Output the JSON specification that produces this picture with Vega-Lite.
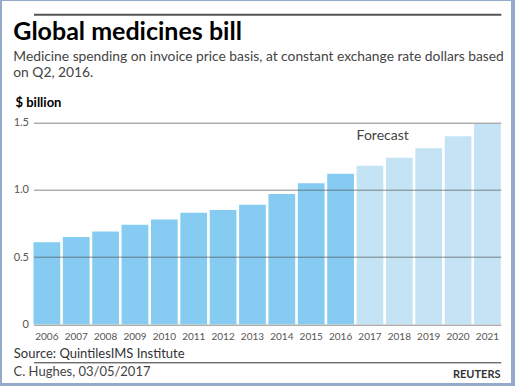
{
  "$schema": "https://vega.github.io/schema/vega-lite/v6.json",
  "width": 467.3,
  "height": 201.6,
  "autosize": {"type": "none"},
  "padding": {"left": 33.5, "top": 122.7, "right": 14.2, "bottom": 61.7},
  "background": "white",
  "config": {
    "font": "Lato",
    "view": {"stroke": null}
  },
  "title": {
    "text": "Global medicines bill",
    "subtitle": ["Medicine spending on invoice price basis, at constant exchange rate dollars based", "on Q2, 2016."],
    "anchor": "start",
    "frame": "group",
    "dx": -20.2,
    "offset": -81,
    "fontSize": 25,
    "fontWeight": "bold",
    "color": "#000000",
    "subtitleFontSize": 13.8,
    "subtitleColor": "#444444",
    "subtitleLineHeight": 16,
    "subtitlePadding": 5
  },
  "datasets": {
    "bill": [
      {"year": "2006", "value": 0.61, "period": "Actual"},
      {"year": "2007", "value": 0.65, "period": "Actual"},
      {"year": "2008", "value": 0.69, "period": "Actual"},
      {"year": "2009", "value": 0.74, "period": "Actual"},
      {"year": "2010", "value": 0.78, "period": "Actual"},
      {"year": "2011", "value": 0.83, "period": "Actual"},
      {"year": "2012", "value": 0.85, "period": "Actual"},
      {"year": "2013", "value": 0.89, "period": "Actual"},
      {"year": "2014", "value": 0.97, "period": "Actual"},
      {"year": "2015", "value": 1.05, "period": "Actual"},
      {"year": "2016", "value": 1.12, "period": "Actual"},
      {"year": "2017", "value": 1.18, "period": "Forecast"},
      {"year": "2018", "value": 1.24, "period": "Forecast"},
      {"year": "2019", "value": 1.31, "period": "Forecast"},
      {"year": "2020", "value": 1.40, "period": "Forecast"},
      {"year": "2021", "value": 1.49, "period": "Forecast"}
    ]
  },
  "layer": [
    {
      "data": {"name": "bill"},
      "mark": {"type": "bar"},
      "encoding": {
        "x": {
          "field": "year",
          "type": "nominal",
          "scale": {"type": "band", "paddingInner": 0.09, "paddingOuter": 0},
          "axis": {
            "orient": "bottom",
            "offset": 38,
            "domain": true,
            "domainColor": "#333333",
            "domainWidth": 1,
            "ticks": false,
            "grid": false,
            "labelAngle": 0,
            "labelFontSize": 10,
            "labelColor": "#555555",
            "labelPadding": -26,
            "labelBaseline": "middle",
            "title": "Source: QuintilesIMS Institute",
            "titleX": -20.2,
            "titleY": -5.3,
            "titleAlign": "left",
            "titleBaseline": "alphabetic",
            "titleFontSize": 13,
            "titleFontWeight": "normal",
            "titleColor": "#333333"
          }
        },
        "y": {
          "field": "value",
          "type": "quantitative",
          "scale": {"domain": [0, 1.5], "nice": false},
          "axis": {
            "orient": "left",
            "values": [0, 0.5, 1, 1.5],
            "labelExpr": "datum.value == 0 ? '0' : format(datum.value, '.1f')",
            "grid": true,
            "gridColor": "#555555",
            "gridOpacity": 0.7,
            "gridWidth": 1,
            "zindex": 1,
            "domain": false,
            "ticks": false,
            "labelPadding": 5,
            "labelFontSize": 11,
            "labelColor": "#555555",
            "title": "$ billion",
            "titleAngle": 0,
            "titleX": -18.5,
            "titleY": -16.7,
            "titleAlign": "left",
            "titleBaseline": "alphabetic",
            "titleFontSize": 13,
            "titleFontWeight": "bold",
            "titleColor": "#000000"
          }
        },
        "color": {
          "field": "period",
          "type": "nominal",
          "scale": {"domain": ["Actual", "Forecast"], "range": ["#85CBF2", "#C4E4F6"]},
          "legend": null
        }
      }
    },
    {
      "data": {"name": "bill"},
      "transform": [{"filter": "datum.year == '2017'"}],
      "mark": {"type": "text", "text": "Forecast", "align": "left", "baseline": "alphabetic", "fontSize": 14, "color": "#444444"},
      "encoding": {
        "x": {
          "field": "year",
          "type": "nominal",
          "bandPosition": 0,
          "scale": {
            "type": "band",
            "domain": ["2006", "2007", "2008", "2009", "2010", "2011", "2012", "2013", "2014", "2015", "2016", "2017", "2018", "2019", "2020", "2021"],
            "paddingInner": 0.09,
            "paddingOuter": 0
          },
          "axis": {
            "orient": "top",
            "offset": 108.4,
            "domain": true,
            "domainColor": "#555555",
            "domainWidth": 2,
            "ticks": false,
            "labels": false,
            "grid": false,
            "title": "C. Hughes, 03/05/2017",
            "titleX": -20.5,
            "titleY": 360.7,
            "titleAlign": "left",
            "titleBaseline": "alphabetic",
            "titleFontSize": 13,
            "titleFontWeight": "normal",
            "titleColor": "#444444"
          }
        },
        "y": {
          "datum": 1.37,
          "type": "quantitative",
          "scale": {"domain": [0, 1.5], "nice": false},
          "axis": {
            "orient": "right",
            "domain": false,
            "ticks": false,
            "labels": false,
            "grid": false,
            "title": "REUTERS",
            "titleAngle": 0,
            "titleX": -0.8,
            "titleY": 254.8,
            "titleAlign": "right",
            "titleBaseline": "alphabetic",
            "titleFontSize": 11,
            "titleFontWeight": "bold",
            "titleColor": "#333333"
          }
        },
        "stroke": {
          "field": "value",
          "type": "quantitative",
          "scale": {"domain": [0, 1.5], "range": ["rgba(255,255,255,0)", "rgba(255,255,255,0)"]},
          "legend": {
            "orient": "none",
            "legendX": -33.5,
            "legendY": -123.7,
            "direction": "horizontal",
            "gradientLength": 513,
            "gradientThickness": 386,
            "gradientStrokeColor": "#94AACA",
            "gradientStrokeWidth": 4,
            "title": null,
            "padding": 0,
            "offset": 0,
            "labelOpacity": 0,
            "labelExpr": "''"
          }
        }
      }
    }
  ],
  "resolve": {"scale": {"x": "independent", "y": "independent"}}
}
